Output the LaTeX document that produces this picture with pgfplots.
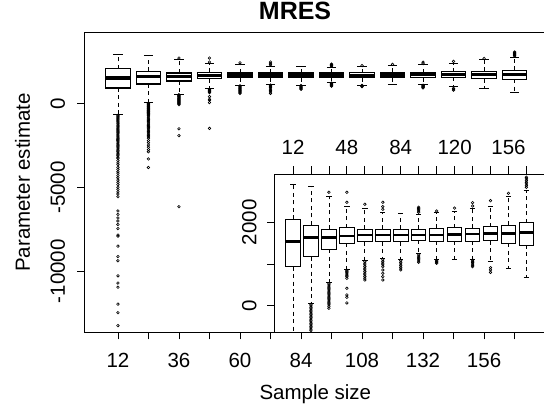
\documentclass[border=0pt]{standalone}
\usepackage{fontspec}
\setmainfont{Liberation Sans}
\usepackage{pgfplots}
\usepackage{pgfplotstable}
\pgfplotsset{compat=1.18}

% outliers per sample size (12, 24, ..., 168)
\pgfplotstableread[row sep=\\]{v\\ -700\\ -760\\ -830\\ -890\\ -950\\ -1020\\ -1080\\ -1150\\ -1210\\ -1280\\ -1340\\ -1400\\ -1470\\ -1540\\ -1600\\ -1670\\ -1730\\ -1800\\ -1870\\ -1930\\ -2000\\ -2070\\ -2140\\ -2200\\ -2280\\ -2350\\ -2420\\ -2490\\ -2560\\ -2640\\ -2710\\ -2790\\ -2870\\ -2950\\ -3030\\ -3110\\ -3200\\ -3270\\ -3400\\ -3530\\ -3640\\ -3800\\ -3920\\ -4060\\ -4150\\ -4290\\ -4420\\ -4560\\ -4700\\ -4830\\ -4990\\ -5120\\ -5260\\ -5390\\ -5550\\ -6400\\ -6610\\ -6820\\ -7000\\ -7210\\ -7450\\ -7840\\ -7900\\ -8500\\ -9120\\ -9370\\ -10270\\ -10700\\ -10950\\ -11960\\ -12470\\ -13240\\}\oA
\pgfplotstableread[row sep=\\]{v\\ 30\\ -5\\ -40\\ -75\\ -110\\ -145\\ -180\\ -215\\ -250\\ -285\\ -320\\ -355\\ -390\\ -425\\ -460\\ -495\\ -530\\ -565\\ -600\\ -640\\ -680\\ -730\\ -800\\ -870\\ -940\\ -1010\\ -1080\\ -1150\\ -1220\\ -1290\\ -1360\\ -1430\\ -1500\\ -1580\\ -1660\\ -1740\\ -1820\\ -1900\\ -1980\\ -2060\\ -2200\\ -2330\\ -2470\\ -2600\\ -2740\\ -2870\\ -3300\\ -3810\\}\oB
\pgfplotstableread[row sep=\\]{v\\ 2719\\ 530\\ 500\\ 470\\ 440\\ 410\\ 380\\ 350\\ 320\\ 290\\ 260\\ 230\\ 200\\ 170\\ 140\\ 110\\ 80\\ 50\\ 20\\ -15\\ -62\\ -1500\\ -1910\\ -6150\\}\oC
\pgfplotstableread[row sep=\\]{v\\ 2719\\ 2480\\ 850\\ 820\\ 790\\ 760\\ 730\\ 700\\ 657\\ 417\\ 257\\ 201\\ 65\\ -1480\\}\oD
\pgfplotstableread[row sep=\\]{v\\ 2432\\ 1060\\ 1020\\ 980\\ 940\\ 900\\ 860\\ 820\\ 780\\ 740\\ 700\\ 660\\ 616\\}\oE
\pgfplotstableread[row sep=\\]{v\\ 2480\\ 2374\\ 2312\\ 1100\\ 1060\\ 1020\\ 980\\ 935\\ 856\\ 777\\ 696\\ 616\\}\oF
\pgfplotstableread[row sep=\\]{v\\ 1080\\ 1040\\ 1000\\ 960\\ 920\\ 880\\ 856\\}\oG
\pgfplotstableread[row sep=\\]{v\\ 2240\\ 2270\\ 2300\\ 2330\\ 2360\\ 1220\\ 1190\\ 1160\\ 1130\\ 1100\\ 1070\\ 1040\\}\oH
\pgfplotstableread[row sep=\\]{v\\ 2271\\ 1090\\ 1060\\ 1040\\ 1017\\}\oI
\pgfplotstableread[row sep=\\]{v\\ 2340\\}\oJ
\pgfplotstableread[row sep=\\]{v\\ 2391\\ 2470\\ 1096\\ 1065\\ 1035\\ 1000\\ 970\\ 935\\}\oK
\pgfplotstableread[row sep=\\]{v\\ 2518\\ 910\\ 860\\ 800\\}\oL
\pgfplotstableread[row sep=\\]{v\\ 2695\\}\oM
\pgfplotstableread[row sep=\\]{v\\ 2839\\ 2880\\ 2920\\ 2960\\ 3000\\ 3040\\ 3079\\}\oN

\newcommand{\lab}{\fontsize{20.5}{24}\selectfont}

\pgfplotsset{
  whisk/.style={black, line width=0.8pt, dash pattern=on 4pt off 3.5pt},
  cap/.style={black, line width=0.8pt},
  boxs/.style={black, fill=white, line width=0.8pt, line join=miter},
  med/.style={black, line width=2.6pt},
  outl/.style={black, only marks, mark=o, mark size=1.3pt,
    mark options={solid, line width=0.6pt}},
  common/.style={scale only axis, anchor=south west,
    scaled ticks=false,
    tick align=outside, major tick length=7.5pt,
    axis line style={line width=0.8pt},
    every tick/.style={black, line width=0.8pt},
    tick label style={font=\lab, inner sep=0pt},
    axis background/.style={fill=white}},
}

% position, lower whisker, lower quartile, median, upper quartile, upper whisker, outliers
\newcommand{\bx}[7]{%
  \pgfmathsetmacro\xa{#1-0.4}\pgfmathsetmacro\xb{#1+0.4}%
  \pgfmathsetmacro\xc{#1-0.15}\pgfmathsetmacro\xd{#1+0.15}%
  \edef\tmp{%
    \noexpand\addplot[whisk] coordinates {(#1,#3) (#1,#2)};
    \noexpand\addplot[whisk] coordinates {(#1,#5) (#1,#6)};
    \noexpand\addplot[cap] coordinates {(\xc,#2) (\xd,#2)};
    \noexpand\addplot[cap] coordinates {(\xc,#6) (\xd,#6)};
    \noexpand\addplot[boxs] coordinates {(\xa,#3) (\xb,#3) (\xb,#5) (\xa,#5)} -- cycle;
    \noexpand\addplot[med] coordinates {(\xa,#4) (\xb,#4)};
    \noexpand\addplot[outl] table[x expr=#1, y index=0] {\noexpand#7};
  }\tmp}

\newcommand{\allboxes}{%
  \bx{1}{-660}{935}{1535}{2072}{2918}{\oA}
  \bx{2}{58}{1175}{1631}{1935}{2870}{\oB}
  \bx{3}{561}{1353}{1631}{1832}{2614}{\oC}
  \bx{4}{880}{1496}{1671}{1870}{2374}{\oD}
  \bx{5}{1096}{1535}{1695}{1832}{2336}{\oE}
  \bx{6}{1137}{1535}{1695}{1832}{2240}{\oF}
  \bx{7}{1113}{1535}{1695}{1832}{2216}{\oG}
  \bx{8}{1250}{1575}{1695}{1832}{2190}{\oH}
  \bx{9}{1113}{1552}{1695}{1856}{2230}{\oI}
  \bx{10}{1120}{1552}{1712}{1870}{2270}{\oJ}
  \bx{11}{1120}{1552}{1719}{1856}{2336}{\oK}
  \bx{12}{1055}{1559}{1736}{1894}{2374}{\oL}
  \bx{13}{897}{1496}{1736}{1935}{2614}{\oM}
  \bx{14}{681}{1456}{1751}{1990}{2775}{\oN}
}

\begin{document}
\begin{tikzpicture}
\useasboundingbox (0pt,0pt) rectangle (544pt,414pt);

\begin{axis}[common,
  at={(84.7pt,82pt)}, width=461.3pt, height=299.3pt,
  xmin=-0.09, xmax=15.03, ymin=-13620, ymax=4230,
  boxs/.style={black, fill=white, line width=1.2pt, line join=miter},
  med/.style={black, line width=3.4pt},
  xtick={1,...,14}, xticklabels={12,,36,,60,,84,,108,,132,,156,},
  ytick={-10000,-5000,0}, yticklabels={-10000,-5000,0},
  xtick pos=left, ytick pos=left,
  xticklabel shift=13pt, yticklabel shift=12pt,
  xticklabel style={anchor=north},
  yticklabel style={rotate=90, anchor=south},
  title={MRES},
  title style={at={(axis description cs:0.456,1.0257)}, anchor=base,
    font=\bfseries\fontsize{25}{30}\selectfont},
  xlabel={Sample size},
  ylabel={Parameter estimate},
  every axis x label/.style={at={(axis description cs:0.5,-0.2272)}, anchor=base, font=\lab},
  every axis y label/.style={at={(axis description cs:-0.1186,0.5)}, rotate=90, anchor=base, font=\lab},
]
\allboxes
\end{axis}

\begin{axis}[common,
  at={(274.7pt,81.7pt)}, width=271.3pt, height=158.3pt,
  xmin=-0.02, xmax=15.09, ymin=-638, ymax=3158,
  xtick={1,...,14}, xticklabels={12,,,48,,,84,,,120,,,156,},
  xtick pos=right, xticklabel pos=right,
  ytick={0,1000,2000}, yticklabels={0,,2000},
  ytick pos=left,
  xticklabel shift=11.5pt, yticklabel shift=10.5pt,
  xticklabel style={anchor=south},
  yticklabel style={rotate=90, anchor=south},
]
\allboxes
\end{axis}
\end{tikzpicture}
\end{document}
